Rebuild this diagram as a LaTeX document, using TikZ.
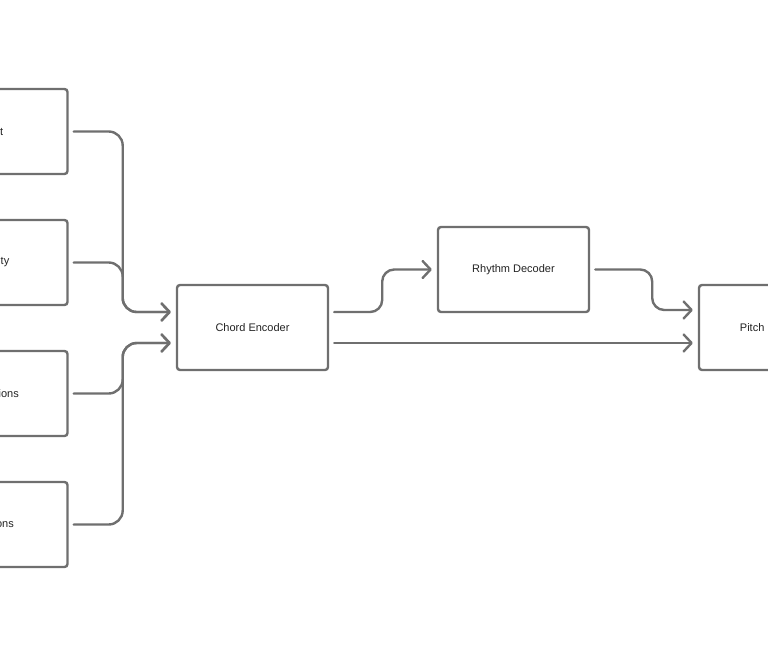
\documentclass[tikz,border=0pt]{standalone}
\usepackage{fontspec}
\setmainfont{Liberation Sans}
\usetikzlibrary{arrows.meta,calc}
\definecolor{linegray}{HTML}{6F6F6F}
\definecolor{txt}{HTML}{222222}
\begin{document}
\begin{tikzpicture}[x=1pt,y=-1pt,
  box/.style={draw=linegray,line width=2.4pt,rounded corners=3pt,minimum width=151pt,minimum height=85pt,inner sep=0pt,font=\fontsize{11}{13}\selectfont,text=txt},
  frag/.style={anchor=east,inner sep=0pt,font=\fontsize{11}{13}\selectfont,text=txt},
  conn/.style={draw=linegray,line width=2.4pt,line cap=round,line join=round,rounded corners=14pt,-{Straight Barb[length=8pt,width=17pt,line width=2.4pt,round]}}]
\useasboundingbox (0,0) rectangle (768,656);
\clip (0,0) rectangle (768,656);
% input boxes (cut by left edge)
\node[box] (in1) at (-8,131.5) {};
\node[box] (in2) at (-8,262.5) {};
\node[box] (in3) at (-8,393.5) {};
\node[box] (in4) at (-8,524.5) {};
\node[frag] (t1) at (3.5,131.5) {t};
\node[frag] (t2) at (9.5,262.5) {ty};
\node[frag] (t3) at (19,393.5) {ions};
\node[frag] (t4) at (14,524.5) {ons};
% main boxes
\node[box] (enc) at (252.5,327.5) {Chord Encoder};
\node[box] (rhy) at (513.5,269.5) {Rhythm Decoder};
\node[box] (pit) at (774.5,327.5) {Pitch\phantom{ Decoder}};
% arrow end points
\coordinate (e1) at ($(enc.west)+(-5,-15.5)$);
\coordinate (e2) at ($(enc.west)+(-5,15.5)$);
\coordinate (r1) at ($(rhy.west)+(-5,0)$);
\coordinate (p1) at ($(pit.west)+(-5,-17.5)$);
\coordinate (p2) at ($(pit.west)+(-5,15.5)$);
% connectors
\draw[conn] ($(in1.east)+(5,0)$) -- ++(49,0) |- (e1);
\draw[conn] ($(in2.east)+(5,0)$) -- ++(49,0) |- (e1);
\draw[conn] ($(in3.east)+(5,0)$) -- ++(49,0) |- (e2);
\draw[conn] ($(in4.east)+(5,0)$) -- ++(49,0) |- (e2);
\draw[conn,rounded corners=12pt] ($(enc.east)+(5,-15.5)$) -- ++(48,0) |- (r1);
\draw[conn] ($(enc.east)+(5,15.5)$) -- (p2);
\draw[conn,rounded corners=12pt] ($(rhy.east)+(5,0)$) -- ++(57,0) |- (p1);
\end{tikzpicture}
\end{document}
